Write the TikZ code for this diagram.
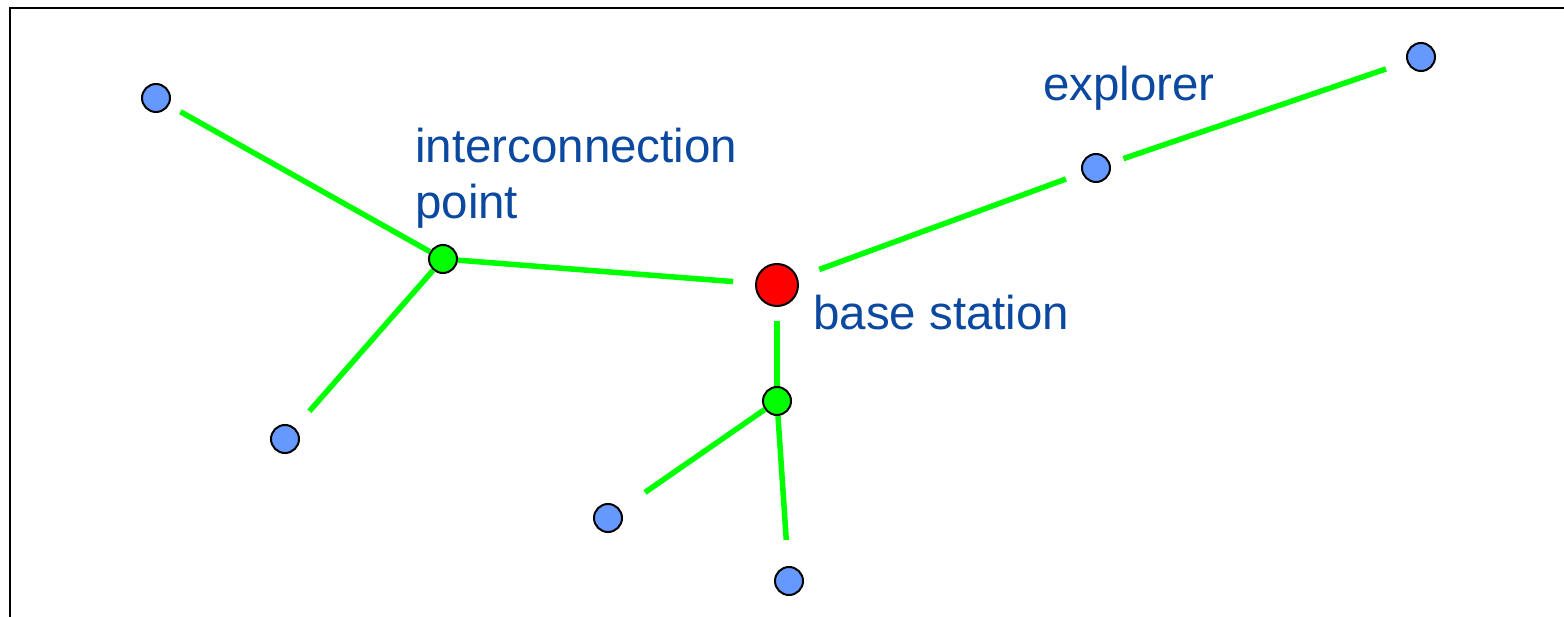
\documentclass[tikz,border=0pt]{standalone}
\usepackage{fontspec}
\setmainfont{Liberation Sans}
\definecolor{labelblue}{RGB}{11,72,160}
\definecolor{nodeblue}{RGB}{102,153,255}
\definecolor{linkgreen}{RGB}{0,255,0}
\begin{document}
\begin{tikzpicture}[x=1pt,y=-1pt,
  explorerdot/.style={circle,draw=black,line width=2pt,fill=nodeblue,minimum size=28pt,inner sep=0pt},
  joindot/.style={circle,draw=black,line width=2pt,fill=linkgreen,minimum size=28pt,inner sep=0pt},
  basedot/.style={circle,draw=black,line width=2pt,fill=red,minimum size=42pt,inner sep=0pt},
  link/.style={draw=linkgreen,line width=5.5pt},
  lbl/.style={text=labelblue,inner sep=0pt,font=\fontsize{47.5}{57}\selectfont}]
  \useasboundingbox (0,0) rectangle (1564,617);
  % frame edges
  \draw[line width=2.5pt] (10,617) -- (10,8) -- (1564,8);

  % nodes
  \node[explorerdot] (e1) at (156,98) {};
  \node[explorerdot] (e2) at (285,439) {};
  \node[explorerdot] (e3) at (608,518) {};
  \node[explorerdot] (e4) at (789,581) {};
  \node[explorerdot] (e5) at (1096,168) {};
  \node[explorerdot] (e6) at (1421,57) {};
  \node[joindot] (j1) at (443,259) {};
  \node[joindot] (j2) at (777,401) {};
  \node[basedot] (bs) at (777,285) {};

  % links
  \draw[link,shorten <=13pt] (e1) -- (j1);
  \draw[link,shorten >=22pt] (j1) -- (e2);
  \draw[link,shorten >=22pt] (j1) -- (bs);
  \draw[link,shorten <=23pt,shorten >=17pt] (bs) -- (e5);
  \draw[link,shorten <=14pt,shorten >=22pt] (e5) -- (e6);
  \draw[link,shorten <=14pt] (bs) -- (j2);
  \draw[link,shorten >=26pt] (j2) -- (e4);
  \draw[link,shorten >=30pt] (j2) -- (e3);

  % labels
  \node[lbl,anchor=base west] (l1) at (415,163) {interconnection};
  \node[lbl,anchor=base west] (l2) at (415,219) {point};
  \node[lbl,anchor=base west] (l3) at (1043,101) {explorer};
  \node[lbl,anchor=base west] (l4) at (813,330) {base station};
\end{tikzpicture}
\end{document}
